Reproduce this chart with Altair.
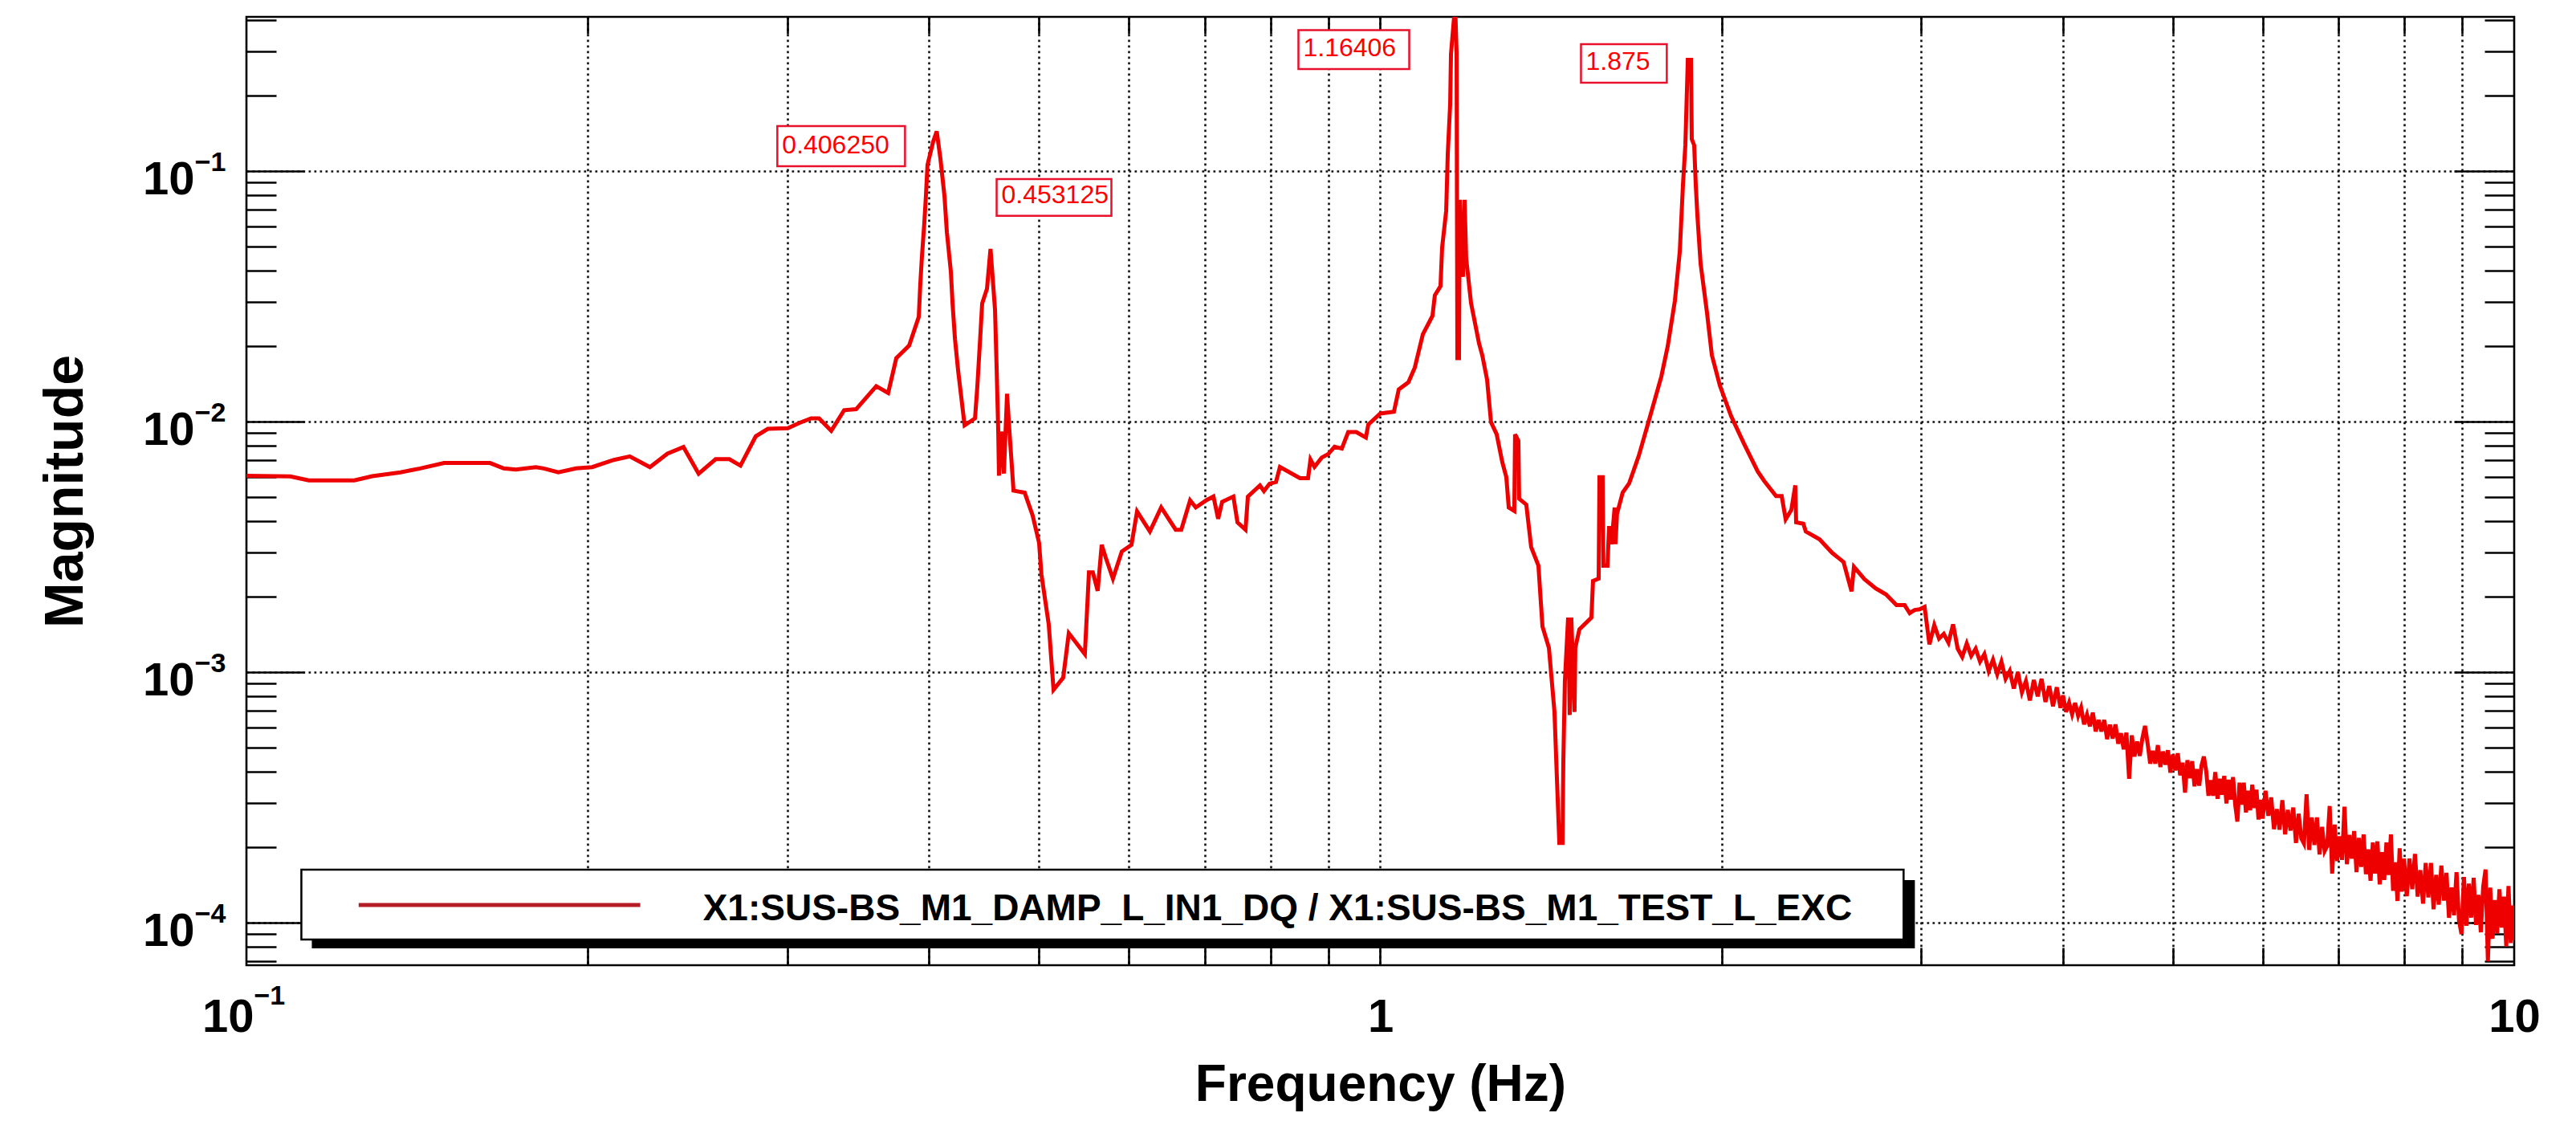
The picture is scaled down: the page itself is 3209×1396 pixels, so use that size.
import altair as alt
import pandas as pd

# ---------------- data ----------------
# (frequency Hz, magnitude) : low-frequency part with the 0.406 / 0.453 Hz resonances
seg_low = [
    (0.1000, 0.00608), (0.1093, 0.00604), (0.1135, 0.00582), (0.1245, 0.00582), (0.1291, 0.00605),
    (0.1367, 0.00627), (0.1423, 0.00650), (0.1494, 0.00683), (0.1640, 0.00683), (0.1686, 0.00650),
    (0.1728, 0.00643), (0.1800, 0.00658), (0.1829, 0.00650), (0.1884, 0.00627), (0.1953, 0.00650),
    (0.2018, 0.00658), (0.2101, 0.00700), (0.2178, 0.00726), (0.2269, 0.00658), (0.2351, 0.00744),
    (0.2429, 0.00791), (0.2505, 0.00619), (0.2593, 0.00708), (0.2666, 0.00708), (0.2727, 0.00667),
    (0.2813, 0.00873), (0.2883, 0.00935), (0.3002, 0.00940), (0.3076, 0.00989), (0.3148, 0.01030),
    (0.3199, 0.01030), (0.3279, 0.00918), (0.3366, 0.0111), (0.3449, 0.0112), (0.3593, 0.01384),
    (0.3681, 0.0130), (0.3742, 0.0179), (0.3841, 0.0201), (0.3917, 0.0262), (0.3929, 0.0353),
    (0.3942, 0.0454), (0.3961, 0.0617), (0.3974, 0.0792), (0.3987, 0.1057), (0.4033, 0.131),
    (0.40625, 0.144), (0.4093, 0.112), (0.4127, 0.0792), (0.4147, 0.057), (0.4181, 0.0395),
    (0.4195, 0.0296), (0.4216, 0.0213), (0.4243, 0.01595), (0.4299, 0.00966), (0.4391, 0.0103),
    (0.4412, 0.0139), (0.4441, 0.0230), (0.4455, 0.0296), (0.4499, 0.0339), (0.453125, 0.0489),
    (0.4573, 0.0279), (0.4588, 0.0163), (0.4603, 0.00912), (0.4610, 0.00608), (0.4633, 0.00912),
    (0.4656, 0.0062), (0.4686, 0.0129), (0.4709, 0.00912), (0.4748, 0.0053), (0.4857, 0.0052),
    (0.4936, 0.00422), (0.5001, 0.00328), (0.5025, 0.00245), (0.5100, 0.00155), (0.5150, 0.00085),
    (0.5252, 0.00095), (0.5312, 0.00143), (0.5488, 0.00118), (0.5534, 0.0025), (0.5578, 0.0025),
    (0.5633, 0.00211), (0.5679, 0.00322), (0.5726, 0.00286), (0.5810, 0.00236), (0.5916, 0.00303),
    (0.6033, 0.00322),
]
# rise to the 1.164 Hz resonance
seg_mid = [
    (0.6102, 0.00438), (0.6263, 0.00364), (0.6408, 0.00454), (0.6600, 0.00370), (0.6675, 0.00370),
    (0.6796, 0.00485), (0.6875, 0.00454), (0.7023, 0.00485), (0.7126, 0.00502), (0.7194, 0.00409),
    (0.7253, 0.00478), (0.7420, 0.00502), (0.7482, 0.00396), (0.7605, 0.00370), (0.7642, 0.00502),
    (0.7831, 0.00556), (0.7895, 0.00528), (0.7986, 0.00565), (0.8091, 0.00574), (0.8156, 0.00659),
    (0.8494, 0.00594), (0.8635, 0.00594), (0.8678, 0.00705), (0.8748, 0.00659), (0.8877, 0.00718),
    (0.8995, 0.00741), (0.9113, 0.00793), (0.9248, 0.00780), (0.9369, 0.00908), (0.9523, 0.00908),
    (0.9711, 0.00863), (0.9759, 0.00973), (1.0000, 0.01077), (1.0280, 0.01094), (1.0382, 0.01343),
    (1.0587, 0.01435), (1.0726, 0.01643), (1.0902, 0.0223), (1.1117, 0.0264), (1.1171, 0.0319),
    (1.1300, 0.0347), (1.1337, 0.0494), (1.1431, 0.0693), (1.1468, 0.117), (1.1524, 0.185),
    (1.1543, 0.293), (1.16406, 0.46), (1.1675, 0.298), (1.1694, 0.0179), (1.1732, 0.0179),
    (1.1751, 0.0768), (1.1827, 0.0378), (1.1866, 0.0768), (1.1905, 0.0448), (1.2023, 0.0297),
    (1.2220, 0.0205), (1.2300, 0.0184), (1.2421, 0.0147),
]
# notch near 1.44 Hz, 1.875 Hz resonance and start of the roll-off
seg_high = [
    (1.2521, 0.00993), (1.2666, 0.00889), (1.2810, 0.00689), (1.2916, 0.00600), (1.2980, 0.00454),
    (1.3127, 0.00440), (1.3148, 0.00889), (1.3236, 0.00838), (1.3257, 0.00492), (1.3451, 0.00466),
    (1.3585, 0.00315), (1.3786, 0.00266), (1.3900, 0.00152), (1.4083, 0.00125), (1.4243, 0.000693),
    (1.4314, 0.000375), (1.4384, 0.000208), (1.4477, 0.000208), (1.4500, 0.000431), (1.4547, 0.000918),
    (1.4643, 0.00165), (1.4691, 0.000674), (1.4738, 0.00165), (1.4834, 0.000693), (1.4859, 0.00125),
    (1.4982, 0.00148), (1.5352, 0.00165), (1.5402, 0.00231), (1.5580, 0.00236), (1.5605, 0.00600),
    (1.5706, 0.00600), (1.5731, 0.00266), (1.5862, 0.00266), (1.5913, 0.00383), (1.5990, 0.00324),
    (1.6094, 0.00454), (1.6120, 0.00324), (1.6172, 0.00428), (1.6359, 0.00521), (1.6575, 0.00567),
    (1.6903, 0.00730), (1.7265, 0.0102), (1.7693, 0.0151), (1.7926, 0.0200), (1.8189, 0.0304),
    (1.8370, 0.0477), (1.8489, 0.0883), (1.8579, 0.1267), (1.8672, 0.278), (1.8793, 0.278),
    (1.8823, 0.134), (1.8915, 0.1267), (1.8976, 0.0883), (1.9038, 0.0667), (1.9164, 0.0426),
    (1.9414, 0.0272), (1.9607, 0.0184), (1.9930, 0.0139), (2.0390, 0.0105), (2.0930, 0.00815),
    (2.1517, 0.00633), (2.1800, 0.0058), (2.2336, 0.00504), (2.2594, 0.00504), (2.2777, 0.00407),
    (2.3041, 0.00444), (2.3227, 0.00556), (2.3265, 0.00396), (2.3610, 0.00391), (2.3726, 0.00364),
    (2.4394, 0.00339), (2.5036, 0.00299), (2.5616, 0.00275), (2.6038, 0.00210), (2.6164, 0.00263),
    (2.6725, 0.00235), (2.7342, 0.00216), (2.7927, 0.00204), (2.8524, 0.00185),
]
# noisy tail, 2.9 - 4 Hz
seg_noise_a = [
    (2.90, 0.00185), (2.93, 0.00172), (2.96, 0.00177), (2.99, 0.00178), (3.02, 0.00182),
    (3.05, 0.00129), (3.08, 0.00154), (3.11, 0.00136), (3.14, 0.00142), (3.17, 0.00131),
    (3.20, 0.00155), (3.23, 0.00124), (3.26, 0.00115), (3.29, 0.00130), (3.32, 0.00116),
    (3.35, 0.00124), (3.38, 0.00110), (3.41, 0.00118), (3.44, 0.00101), (3.47, 0.00112),
    (3.50, 0.00098), (3.53, 0.00110), (3.56, 0.00094), (3.59, 0.00101), (3.62, 0.00086),
    (3.65, 0.00100), (3.68, 0.00083), (3.71, 0.00092), (3.74, 0.00077), (3.77, 0.00093),
    (3.80, 0.00080), (3.83, 0.00094), (3.86, 0.00076), (3.89, 0.00088), (3.92, 0.00073),
    (3.95, 0.00087), (3.98, 0.00072),
]
# noisy tail, 4 - 6 Hz
seg_noise_b = [
    (4.000, 0.000807), (4.025, 0.000693), (4.050, 0.000755), (4.075, 0.000679), (4.100, 0.000753),
    (4.125, 0.000669), (4.150, 0.000722), (4.175, 0.000619), (4.200, 0.000675), (4.225, 0.000607),
    (4.250, 0.000689), (4.275, 0.000579), (4.300, 0.000644), (4.325, 0.000579), (4.350, 0.000644),
    (4.375, 0.000540), (4.400, 0.000617), (4.425, 0.000543), (4.450, 0.000618), (4.475, 0.000518),
    (4.500, 0.000570), (4.525, 0.000492), (4.550, 0.000573), (4.575, 0.000375), (4.600, 0.000559),
    (4.625, 0.000460), (4.650, 0.000528), (4.675, 0.000463), (4.700, 0.000544), (4.725, 0.000610),
    (4.750, 0.000520), (4.775, 0.000431), (4.800, 0.000485), (4.825, 0.000431), (4.850, 0.000511),
    (4.875, 0.000418), (4.900, 0.000482), (4.925, 0.000427), (4.950, 0.000488), (4.975, 0.000397),
    (5.000, 0.000469), (5.025, 0.000405), (5.050, 0.000474), (5.075, 0.000387), (5.100, 0.000435),
    (5.125, 0.000330), (5.150, 0.000445), (5.175, 0.000377), (5.200, 0.000441), (5.225, 0.000350),
    (5.250, 0.000410), (5.275, 0.000352), (5.300, 0.000424), (5.325, 0.000460), (5.350, 0.000403),
    (5.375, 0.000321), (5.400, 0.000370), (5.425, 0.000321), (5.450, 0.000399), (5.475, 0.000312),
    (5.500, 0.000375), (5.525, 0.000324), (5.550, 0.000385), (5.575, 0.000299), (5.600, 0.000372),
    (5.625, 0.000310), (5.650, 0.000381), (5.675, 0.000296), (5.700, 0.000253), (5.725, 0.000362),
    (5.750, 0.000296), (5.775, 0.000362), (5.800, 0.000275), (5.825, 0.000336), (5.850, 0.000281),
    (5.875, 0.000355), (5.900, 0.000287), (5.925, 0.000339), (5.950, 0.000258), (5.975, 0.000309),
    (6.000, 0.000260),
]
# noisy tail, 6 - 8 Hz
seg_noise_c = [
    (6.035, 0.000336), (6.070, 0.000267), (6.105, 0.000316), (6.140, 0.000236), (6.175, 0.000284),
    (6.210, 0.000235), (6.245, 0.000308), (6.280, 0.000225), (6.315, 0.000282), (6.350, 0.000233),
    (6.385, 0.000288), (6.420, 0.000208), (6.455, 0.000272), (6.490, 0.000217), (6.525, 0.000207),
    (6.560, 0.000325), (6.595, 0.000195), (6.630, 0.000263), (6.665, 0.000204), (6.700, 0.000263),
    (6.735, 0.000187), (6.770, 0.000241), (6.805, 0.000193), (6.840, 0.000202), (6.875, 0.000292),
    (6.910, 0.000157), (6.945, 0.000246), (6.980, 0.000176), (7.015, 0.000221), (7.050, 0.000178),
    (7.085, 0.000290), (7.120, 0.000171), (7.155, 0.000224), (7.190, 0.000180), (7.225, 0.000232),
    (7.260, 0.000159), (7.295, 0.000218), (7.330, 0.000167), (7.365, 0.000225), (7.400, 0.000156),
    (7.435, 0.000196), (7.470, 0.000147), (7.505, 0.000209), (7.540, 0.000157), (7.575, 0.000211),
    (7.610, 0.000142), (7.645, 0.000191), (7.680, 0.000148), (7.715, 0.000209), (7.750, 0.000155),
    (7.785, 0.000225), (7.820, 0.000134), (7.855, 0.000174), (7.890, 0.000122), (7.925, 0.000198),
    (7.960, 0.000133), (7.995, 0.000180),
]
# noisy tail, 8 - 10 Hz
seg_noise_d = [
    (8.040, 0.0001275), (8.085, 0.000180), (8.130, 0.000136), (8.175, 0.000188), (8.220, 0.000127),
    (8.265, 0.000162), (8.310, 0.000119), (8.355, 0.000173), (8.400, 0.000126), (8.445, 0.000173),
    (8.490, 0.000113), (8.535, 0.000155), (8.580, 0.000118), (8.625, 0.000169), (8.670, 0.0001225),
    (8.715, 0.000158), (8.760, 0.0001045), (8.805, 0.000138), (8.850, 0.000107), (8.895, 0.000159),
    (8.940, 0.000102), (8.985, 0.000090), (9.030, 0.000152), (9.075, 0.0000972), (9.120, 0.000143),
    (9.165, 0.0001047), (9.210, 0.000151), (9.255, 0.0000979), (9.300, 0.000129), (9.345, 0.0000915),
    (9.390, 0.000139), (9.435, 0.000163), (9.480, 0.000070), (9.525, 0.000138), (9.570, 0.0000861),
    (9.615, 0.000123), (9.660, 0.0000906), (9.705, 0.000136), (9.750, 0.0000955), (9.795, 0.000127),
    (9.840, 0.0000804), (9.885, 0.000140), (9.930, 0.0000829), (9.975, 0.000117), (10.0, 0.000085),
]

# peak annotations
ann_label = ["0.406250", "0.453125", "1.16406", "1.875"]
ann_f_left = [0.2939, 0.4588, 0.8468, 1.5031]
ann_f_right = [0.3809, 0.5792, 1.0605, 1.7892]
ann_m_top = [0.1512, 0.0929, 0.3651, 0.3209]
ann_m_bottom = [0.1045, 0.0662, 0.2553, 0.2252]

# legend
legend_label = "X1:SUS-BS_M1_DAMP_L_IN1_DQ / X1:SUS-BS_M1_TEST_L_EXC"
legend_box_f = [0.1118, 2.894]
legend_box_m = [1.627e-4, 8.565e-5]
legend_shadow_f = [0.1142, 2.961]
legend_shadow_m = [1.479e-4, 7.9e-5]
legend_line_f = [0.1256, 0.2225]
legend_line_m = [1.176e-4]
legend_text_pos = [0.2527, 1.022e-4]

# axes
x_domain = [0.1, 10]
y_domain = [6.76e-5, 0.4124]
x_label_values = [0.1, 1, 10]
x_minor_values = [0.2, 0.3, 0.4, 0.5, 0.6, 0.7, 0.8, 0.9, 1, 2, 3, 4, 5, 6, 7, 8, 9]
y_major_values = [1e-4, 1e-3, 1e-2, 1e-1]
y_minor_values = [7e-5, 8e-5, 9e-5,
                  2e-4, 3e-4, 4e-4, 5e-4, 6e-4, 7e-4, 8e-4, 9e-4,
                  2e-3, 3e-3, 4e-3, 5e-3, 6e-3, 7e-3, 8e-3, 9e-3,
                  2e-2, 3e-2, 4e-2, 5e-2, 6e-2, 7e-2, 8e-2, 9e-2,
                  2e-1, 3e-1, 4e-1]

# ---------------- chart ----------------
W, H = 2825, 1181
FONT = "Liberation Sans"
LINE_RED = "#ee0000"

points = seg_low + seg_mid + seg_high + seg_noise_a + seg_noise_b + seg_noise_c + seg_noise_d
curve = pd.DataFrame(points, columns=["f", "m"])
ann = pd.DataFrame({"label": ann_label, "f_left": ann_f_left, "f_right": ann_f_right,
                    "m_top": ann_m_top, "m_bottom": ann_m_bottom})
leg = pd.DataFrame({
    "box_f1": [legend_box_f[0]], "box_f2": [legend_box_f[1]],
    "box_m1": [legend_box_m[0]], "box_m2": [legend_box_m[1]],
    "sh_f1": [legend_shadow_f[0]], "sh_f2": [legend_shadow_f[1]],
    "sh_m1": [legend_shadow_m[0]], "sh_m2": [legend_shadow_m[1]],
    "ln_f1": [legend_line_f[0]], "ln_f2": [legend_line_f[1]], "ln_m": legend_line_m,
    "tx_f": [legend_text_pos[0]], "tx_m": [legend_text_pos[1]], "label": [legend_label],
})

xs = alt.Scale(type="log", domain=x_domain, nice=False)
ys = alt.Scale(type="log", domain=y_domain, nice=False)

BASE = dict(domain=False, labelFlush=False, labelOverlap=False, labelBound=False,
            grid=False, ticks=False, labels=False, title=None)
GRID = dict(grid=True, gridColor="#111111", gridDash=[2.7, 4.3], gridWidth=2.6, gridOpacity=1)
LAB = dict(labels=True, labelFont=FONT, labelFontWeight="bold", labelColor="black")
TICK = dict(ticks=True, tickColor="black", tickWidth=2.6)
EXP = "'\u2212' + round(-log(datum.value) / LN10)"


def axis(**kw):
    d = dict(BASE)
    d.update(kw)
    return alt.Axis(**d)


def layer(xaxis, yaxis):
    return alt.Chart(ann).mark_point(opacity=0, size=1).encode(
        x=alt.X("f_left:Q", scale=xs, axis=xaxis),
        y=alt.Y("m_top:Q", scale=ys, axis=yaxis))


# layer 1: the measured curve, main labels, titles and y grid
curve_layer = alt.Chart(curve).mark_line(color=LINE_RED, strokeWidth=5, clip=True).encode(
    x=alt.X("f:Q", scale=xs, axis=axis(
        orient="bottom", values=x_label_values[1:], labelExpr="format(datum.value, '~g')",
        labelFontSize=58, labelPadding=36, labelAlign="center",
        title="Frequency (Hz)", titleFont=FONT, titleFontSize=64, titleFontWeight="bold",
        titleColor="black", titleX=W / 2, titleY=168, titleAlign="center",
        titleBaseline="alphabetic", **LAB)),
    y=alt.Y("m:Q", scale=ys, axis=axis(
        orient="left", values=y_major_values, labelExpr="'10'", labelFontSize=58,
        labelPadding=65, labelOffset=12, labelAlign="right", labelBaseline="middle",
        title="Magnitude", titleFont=FONT, titleFontSize=68, titleFontWeight="bold",
        titleColor="black", titleAngle=270, titleX=-205, titleY=H / 2, titleAlign="center",
        titleBaseline="alphabetic", **LAB, **GRID)),
)

# layer 2: "10" of 10^-1 on x, exponents on y
l2 = layer(
    axis(orient="bottom", values=x_label_values[:1], labelExpr="'10'", labelFontSize=58,
         labelPadding=36, labelAlign="right", labelOffset=9, **LAB),
    axis(orient="left", values=y_major_values, labelExpr=EXP, labelFontSize=34,
         labelPadding=26, labelOffset=-10, labelAlign="right", labelBaseline="middle", **LAB),
)
# layer 3: exponent of 10^-1 on x, inward major ticks on the left edge
l3 = layer(
    axis(orient="bottom", values=x_label_values[:1], labelExpr=EXP, labelFontSize=34,
         labelPadding=21, labelAlign="left", labelOffset=9, **LAB),
    axis(orient="right", offset=-W, values=y_major_values, tickSize=72, **TICK),
)
# layer 4: x grid, inward minor ticks on the left edge
l4 = layer(
    axis(orient="bottom", values=x_minor_values, **GRID),
    axis(orient="right", offset=-W, values=y_minor_values, tickSize=37, **TICK),
)
# layer 5: inward ticks on the top edge, right-edge major ticks
l5 = layer(
    axis(orient="bottom", offset=-H, values=x_minor_values, tickSize=21, **TICK),
    axis(orient="left", offset=-W, values=y_major_values, tickSize=75, **TICK),
)
# layer 6: inward ticks on the bottom edge, right-edge minor ticks
l6 = layer(
    axis(orient="top", offset=-H, values=x_minor_values, tickSize=22, **TICK),
    axis(orient="left", offset=-W, values=y_minor_values, tickSize=37, **TICK),
)

# peak annotations
ann_box = alt.Chart(ann).mark_rect(fill="white", stroke="#e8102a", strokeWidth=2.5).encode(
    x=alt.X("f_left:Q", scale=xs, axis=None), x2="f_right:Q",
    y=alt.Y("m_top:Q", scale=ys, axis=None), y2="m_bottom:Q")
ann_text = alt.Chart(ann).mark_text(align="left", baseline="alphabetic", dx=6, dy=-16,
                                    font=FONT, fontSize=32, color="#ff0000").encode(
    x=alt.X("f_left:Q", scale=xs, axis=None),
    y=alt.Y("m_bottom:Q", scale=ys, axis=None), text="label:N")

# legend
leg_shadow = alt.Chart(leg).mark_rect(fill="black").encode(
    x=alt.X("sh_f1:Q", scale=xs, axis=None), x2="sh_f2:Q",
    y=alt.Y("sh_m1:Q", scale=ys, axis=None), y2="sh_m2:Q")
leg_box = alt.Chart(leg).mark_rect(fill="white", stroke="black", strokeWidth=2.5).encode(
    x=alt.X("box_f1:Q", scale=xs, axis=None), x2="box_f2:Q",
    y=alt.Y("box_m1:Q", scale=ys, axis=None), y2="box_m2:Q")
leg_line = alt.Chart(leg).mark_rule(color="#b51c26", strokeWidth=5).encode(
    x=alt.X("ln_f1:Q", scale=xs, axis=None), x2="ln_f2:Q",
    y=alt.Y("ln_m:Q", scale=ys, axis=None))
leg_text = alt.Chart(leg).mark_text(align="left", baseline="alphabetic", font=FONT,
                                    fontSize=46, fontWeight="bold", color="black").encode(
    x=alt.X("tx_f:Q", scale=xs, axis=None),
    y=alt.Y("tx_m:Q", scale=ys, axis=None), text="label:N")

chart = alt.layer(
    curve_layer, l2, l3, l4, l5, l6,
    ann_box, ann_text, leg_shadow, leg_box, leg_line, leg_text,
).resolve_axis(x="independent", y="independent").properties(
    width=W, height=H,
    autosize=alt.AutoSizeParams(type="none"),
    padding={"left": 299, "top": 13, "right": 69, "bottom": 186},
    background="white",
).configure_view(stroke="black", strokeWidth=2.6)

chart.save("out.html", embed_options={"renderer": "svg", "actions": False})
